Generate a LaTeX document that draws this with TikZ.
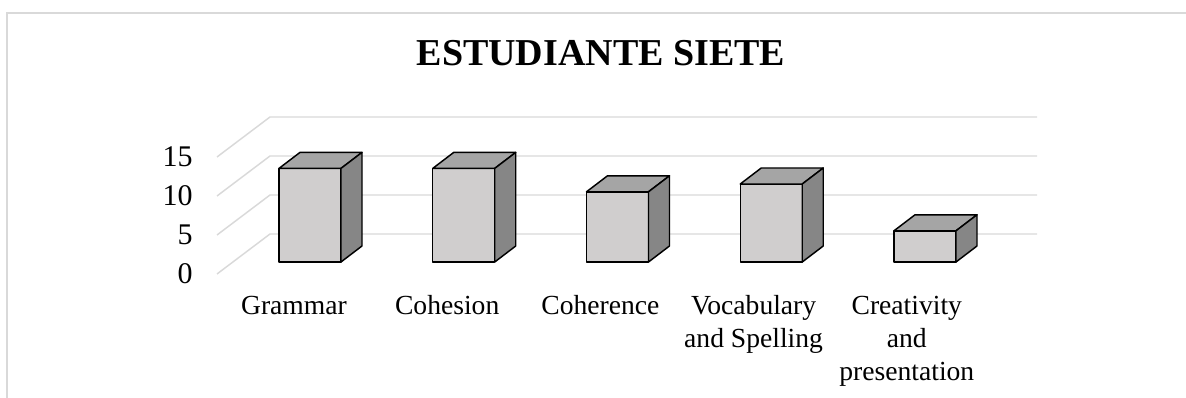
\documentclass[tikz,border=0pt]{standalone}
\usepackage{fontspec}
\setmainfont{Liberation Serif}

\definecolor{gridgray}{RGB}{217,217,217}
\definecolor{barfront}{RGB}{208,206,206}
\definecolor{bartop}{RGB}{165,165,165}
\definecolor{barside}{RGB}{134,134,134}

\tikzset{
  gridline/.style={gridgray,line width=1.1pt},
  barface/.style={draw=black,line width=1.1pt,line join=round},
  ticklabel/.style={anchor=east,inner sep=0pt,font=\fontsize{22.5}{27}\selectfont},
  catlabel/.style={anchor=base,inner sep=0pt,align=center,font=\fontsize{20.7}{24.75}\selectfont}
}

\begin{document}
\begin{tikzpicture}[x=0.75pt,y=0.75pt]
  \useasboundingbox (0,0) rectangle (1186,398);
  % chart frame
  \draw[gridgray,line width=1.5pt] (6.7,0) -- (6.7,385.3) -- (1186,385.3);
  \node[anchor=base,inner sep=0pt,font=\bfseries\fontsize{28.5}{34}\selectfont] (title) at (601,332.3) {ESTUDIANTE SIETE};

  % back wall grid and values
  \foreach \v in {0,5,10,15} {
    \draw[gridline] (217,124+7.8*\v) -- (270,164+7.8*\v) -- (1037,164+7.8*\v);
    \node[ticklabel] (tick\v) at (193,124+7.8*\v) {\v};
  }

  % 3d bars
  \foreach \i/\v in {0/12,1/12,2/9,3/10,4/4} {
    \pgfmathsetmacro{\xa}{279+153.75*\i}
    \pgfmathsetmacro{\xb}{\xa+62}
    \pgfmathsetmacro{\yb}{136+7.8*\v}
    \fill[barfront,barface] (\xa,136) rectangle (\xb,\yb);
    \fill[bartop,barface] (\xa,\yb) -- (\xa+21,\yb+16) -- (\xb+21,\yb+16) -- (\xb,\yb) -- cycle;
    \fill[barside,barface] (\xb,136) -- (\xb+21,152) -- (\xb+21,\yb+16) -- (\xb,\yb) -- cycle;
  }

  % categories (base anchor sits on the last line)
  \foreach \i/\n/\name/\txt in {0/1/grammar/Grammar,1/1/cohesion/Cohesion,2/1/coherence/Coherence,
      3/2/vocabulary/{Vocabulary\\and Spelling},4/3/creativity/{Creativity\\and\\presentation}}
    \node[catlabel] (lbl\name) at (294+153.2*\i,83-33*\n+33) {\txt};
\end{tikzpicture}
\end{document}
